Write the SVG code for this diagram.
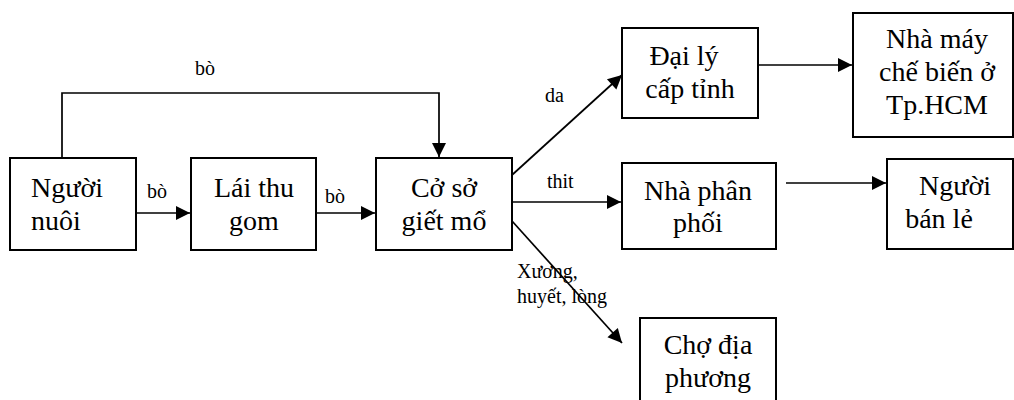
<svg xmlns="http://www.w3.org/2000/svg" width="1014" height="400" viewBox="0 0 1014 400">
  <style>
    .box { fill: #ffffff; stroke: #000000; stroke-width: 2; }
    .node-text { font-family: "Liberation Serif", "Times New Roman", serif; font-size: 28px; fill: #000000; }
    .mid { text-anchor: middle; }
    .edge { fill: none; stroke: #000000; stroke-width: 1.7; }
    .edge-label { font-family: "Liberation Serif", "Times New Roman", serif; font-size: 20px; fill: #000000; }
  </style>
  <defs>
    <marker id="arrow" markerUnits="userSpaceOnUse" markerWidth="16" markerHeight="16" viewBox="0 0 16 16" refX="15" refY="8" orient="auto">
      <path d="M1,1 L15,8 L1,15 Z" fill="#000000"/>
    </marker>
  </defs>
  <rect width="1014" height="400" fill="#ffffff"/>

  <g id="connectors">
    <polyline class="edge" points="62,158 62,93 439,93 439,157" marker-end="url(#arrow)"/>
    <line class="edge" x1="136" y1="213" x2="190" y2="213" marker-end="url(#arrow)"/>
    <line class="edge" x1="316" y1="213" x2="375" y2="213" marker-end="url(#arrow)"/>
    <line class="edge" x1="512" y1="175" x2="622" y2="75" marker-end="url(#arrow)"/>
    <line class="edge" x1="512" y1="202" x2="621" y2="202" marker-end="url(#arrow)"/>
    <line class="edge" x1="512" y1="221" x2="622" y2="343" marker-end="url(#arrow)"/>
    <line class="edge" x1="758" y1="65" x2="852" y2="65" marker-end="url(#arrow)"/>
    <line class="edge" x1="786" y1="183" x2="886" y2="183" marker-end="url(#arrow)"/>
    <text class="edge-label" x="195" y="75">bò</text>
    <text class="edge-label" x="147" y="198">bò</text>
    <text class="edge-label" x="325" y="203">bò</text>
    <text class="edge-label" x="545" y="102">da</text>
    <text class="edge-label" x="547" y="188">thit</text>
    <text class="edge-label" x="517" y="278">Xương,</text>
    <text class="edge-label" x="517" y="303">huyết, lòng</text>
  </g>

  <g id="nguoi-nuoi">
    <rect class="box" x="10" y="158" width="126" height="92"/>
    <text class="node-text" x="31" y="197">Người</text>
    <text class="node-text" x="31" y="230">nuôi</text>
  </g>

  <g id="lai-thu-gom">
    <rect class="box" x="191" y="158" width="125" height="92"/>
    <text class="node-text mid" x="254" y="197">Lái thu</text>
    <text class="node-text mid" x="254" y="230">gom</text>
  </g>

  <g id="co-so-giet-mo">
    <rect class="box" x="376" y="158" width="136" height="92"/>
    <text class="node-text mid" x="444" y="197">Cở sở</text>
    <text class="node-text mid" x="444" y="230">giết mổ</text>
  </g>

  <g id="dai-ly-cap-tinh">
    <rect class="box" x="622" y="28" width="136" height="90"/>
    <text class="node-text mid" x="684" y="65">Đại lý</text>
    <text class="node-text mid" x="690" y="98">cấp tỉnh</text>
  </g>

  <g id="nha-may-che-bien">
    <rect class="box" x="853" y="13" width="160" height="124"/>
    <text class="node-text mid" x="937" y="48">Nhà máy</text>
    <text class="node-text mid" x="937" y="81">chế biến ở</text>
    <text class="node-text mid" x="937" y="114">Tp.HCM</text>
  </g>

  <g id="nha-phan-phoi">
    <rect class="box" x="622" y="163" width="154" height="86"/>
    <text class="node-text mid" x="698" y="200">Nhà phân</text>
    <text class="node-text mid" x="698" y="232">phối</text>
  </g>

  <g id="nguoi-ban-le">
    <rect class="box" x="887" y="159" width="126" height="90"/>
    <text class="node-text mid" x="955" y="195">Người</text>
    <text class="node-text mid" x="939" y="228">bán lẻ</text>
  </g>

  <g id="cho-dia-phuong">
    <rect class="box" x="640" y="318" width="136" height="86"/>
    <text class="node-text mid" x="708" y="354">Chợ địa</text>
    <text class="node-text mid" x="708" y="387">phương</text>
  </g>
</svg>
